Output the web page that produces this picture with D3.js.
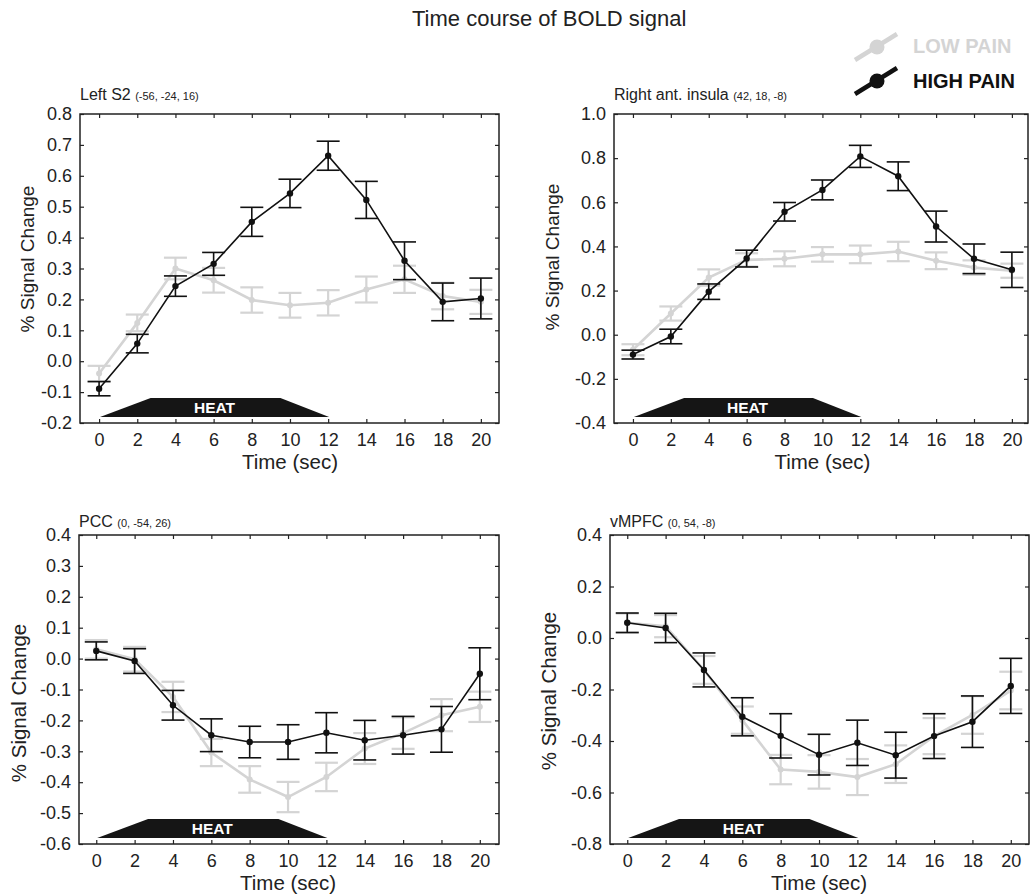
<!DOCTYPE html>
<html lang="en">
<head>
<meta charset="UTF-8">
<title>Time course of BOLD signal</title>
<style>
    body { margin: 0; background: #fff; }
    svg { font-family: "Liberation Sans", Arial, sans-serif; }
    .frame { fill: none; stroke: #222; stroke-width: 1.5px; }
    .axis path { display: none; }
    .axis line { stroke: #222; stroke-width: 1.2px; }
    .axis text { font-size: 18px; fill: #222; }
</style>
</head>
<body>
<svg id="chart" width="1030" height="896"></svg>

<script src="https://d3js.org/d3.v7.min.js"></script>
<script>
    // time points (sec)
    const times = [0, 2, 4, 6, 8, 10, 12, 14, 16, 18, 20];

    // Left S2
    const s2High    = [-0.089, 0.057, 0.243, 0.315, 0.451, 0.543, 0.665, 0.522, 0.325, 0.192, 0.203];
    const s2HighErr = [0.023, 0.030, 0.033, 0.037, 0.047, 0.046, 0.047, 0.060, 0.061, 0.061, 0.066];
    const s2Low     = [-0.040, 0.124, 0.300, 0.262, 0.198, 0.181, 0.189, 0.232, 0.265, 0.211, 0.192];
    const s2LowErr  = [0.025, 0.027, 0.035, 0.040, 0.041, 0.040, 0.041, 0.042, 0.044, 0.043, 0.039];
    const s2Ticks   = [-0.2, -0.1, 0.0, 0.1, 0.2, 0.3, 0.4, 0.5, 0.6, 0.7, 0.8];

    // Right anterior insula
    const insHigh    = [-0.090, -0.008, 0.195, 0.345, 0.557, 0.656, 0.808, 0.718, 0.490, 0.344, 0.294];
    const insHighErr = [0.020, 0.033, 0.035, 0.038, 0.042, 0.045, 0.050, 0.065, 0.070, 0.067, 0.080];
    const insLow     = [-0.068, 0.096, 0.259, 0.339, 0.344, 0.364, 0.364, 0.377, 0.335, 0.304, 0.290];
    const insLowErr  = [0.025, 0.032, 0.037, 0.030, 0.034, 0.033, 0.040, 0.044, 0.038, 0.033, 0.032];
    const insTicks   = [-0.4, -0.2, 0.0, 0.2, 0.4, 0.6, 0.8, 1.0];

    // PCC
    const pccHigh    = [0.025, -0.008, -0.151, -0.248, -0.270, -0.270, -0.240, -0.264, -0.248, -0.229, -0.049];
    const pccHighErr = [0.029, 0.040, 0.048, 0.053, 0.051, 0.056, 0.065, 0.064, 0.061, 0.074, 0.084];
    const pccLow     = [0.030, -0.002, -0.124, -0.304, -0.391, -0.448, -0.383, -0.291, -0.241, -0.183, -0.156];
    const pccLowErr  = [0.030, 0.040, 0.049, 0.044, 0.043, 0.049, 0.046, 0.050, 0.051, 0.052, 0.049];
    const pccTicks   = [-0.6, -0.5, -0.4, -0.3, -0.2, -0.1, 0.0, 0.1, 0.2, 0.3, 0.4];

    // vMPFC
    const vmHigh    = [0.059, 0.039, -0.124, -0.306, -0.380, -0.453, -0.407, -0.455, -0.381, -0.325, -0.186];
    const vmHighErr = [0.038, 0.057, 0.066, 0.074, 0.086, 0.079, 0.088, 0.089, 0.087, 0.100, 0.107];
    const vmLow     = [0.059, 0.046, -0.124, -0.319, -0.511, -0.520, -0.540, -0.490, -0.381, -0.299, -0.204];
    const vmLowErr  = [0.036, 0.043, 0.054, 0.053, 0.057, 0.065, 0.070, 0.073, 0.070, 0.073, 0.073];
    const vmTicks   = [-0.8, -0.6, -0.4, -0.2, 0.0, 0.2, 0.4];

    // heat stimulus ramp (sec): start, plateau start, plateau end, end
    const heatTimes = [0.05, 2.7, 9.5, 12.05];

    const black = '#111';
    const grey = '#d4d4d4';

    const panels = [
        { name: 'Left S2', coords: '(-56, -24, 16)', left: 80, top: 114, w: 419, xDom: [-1, 20.95],
          titleDy: -14, ylabX: -53, ylabY: 145, ylabSize: 19,
          ticks: s2Ticks, high: s2High, highErr: s2HighErr, low: s2Low, lowErr: s2LowErr },
        { name: 'Right ant. insula', coords: '(42, 18, -8)', left: 614, top: 114, w: 414, xDom: [-1, 20.85],
          titleDy: -14, ylabX: -62, ylabY: 143, ylabSize: 19,
          ticks: insTicks, high: insHigh, highErr: insHighErr, low: insLow, lowErr: insLowErr },
        { name: 'PCC', coords: '(0, -54, 26)', left: 79, top: 535, w: 420, xDom: [-0.9, 21],
          titleDy: -8, ylabX: -60, ylabY: 168, ylabSize: 20.5,
          ticks: pccTicks, high: pccHigh, highErr: pccHighErr, low: pccLow, lowErr: pccLowErr },
        { name: 'vMPFC', coords: '(0, 54, -8)', left: 610, top: 535, w: 419, xDom: [-0.9, 20.95],
          titleDy: -8, ylabX: -61, ylabY: 156, ylabSize: 20.5,
          ticks: vmTicks, high: vmHigh, highErr: vmHighErr, low: vmLow, lowErr: vmLowErr }
    ];
    const plotH = 309;

    const svg = d3.select('#chart');

    svg.append('text')
        .attr('x', 412).attr('y', 26)
        .style('font-size', '22px').style('fill', '#222')
        .text('Time course of BOLD signal');

    // legend
    const legend = [
        { label: 'LOW PAIN', color: grey, y: 47, ty: 53 },
        { label: 'HIGH PAIN', color: black, y: 81, ty: 88 }
    ];
    const lg = svg.selectAll('.legend').data(legend).enter().append('g').attr('class', 'legend');
    lg.append('line')
        .attr('x1', 855).attr('x2', 897)
        .attr('y1', d => d.y + 13).attr('y2', d => d.y - 13)
        .attr('stroke', d => d.color).attr('stroke-width', 4.5);
    lg.append('circle')
        .attr('cx', 877).attr('cy', d => d.y).attr('r', 7.5)
        .attr('fill', d => d.color);
    lg.append('text')
        .attr('x', 913).attr('y', d => d.ty)
        .style('font-size', '20px').style('font-weight', 'bold')
        .style('fill', d => d.color)
        .text(d => d.label);

    panels.forEach(p => {
        const g = svg.append('g').attr('transform', `translate(${p.left},${p.top})`);
        const x = d3.scaleLinear().domain(p.xDom).range([0, p.w]);
        const y = d3.scaleLinear().domain(d3.extent(p.ticks)).range([plotH, 0]);
        const fmt = d => d.toFixed(1);

        // heat ramp
        const heatPts = [
            [x(heatTimes[0]), plotH - 6], [x(heatTimes[1]), plotH - 25],
            [x(heatTimes[2]), plotH - 25], [x(heatTimes[3]), plotH - 6]
        ];
        g.append('path')
            .attr('d', d3.line()(heatPts) + 'Z')
            .attr('fill', '#151515');
        g.append('text')
            .attr('x', x(6.05)).attr('y', plotH - 10)
            .attr('text-anchor', 'middle')
            .style('font-size', '15.5px').style('font-weight', 'bold').style('fill', '#fff')
            .text('HEAT');

        // axes (ticks inward on all four sides)
        g.append('g').attr('class', 'axis')
            .call(d3.axisLeft(y).tickValues(p.ticks).tickSize(-4).tickPadding(8).tickFormat(fmt));
        g.append('g').attr('class', 'axis').attr('transform', `translate(${p.w},0)`)
            .call(d3.axisRight(y).tickValues(p.ticks).tickSize(-4).tickFormat(''));
        g.append('g').attr('class', 'axis').attr('transform', `translate(0,${plotH})`)
            .call(d3.axisBottom(x).tickValues(times).tickSize(-4).tickPadding(10));
        g.append('g').attr('class', 'axis')
            .call(d3.axisTop(x).tickValues(times).tickSize(-4).tickFormat(''));
        g.append('rect').attr('class', 'frame')
            .attr('width', p.w).attr('height', plotH);

        // labels
        g.append('text')
            .attr('x', x(10)).attr('y', plotH + 46)
            .attr('text-anchor', 'middle')
            .style('font-size', '20.5px').style('fill', '#222')
            .text('Time (sec)');
        g.append('text')
            .attr('transform', `translate(${p.ylabX},${p.ylabY}) rotate(-90)`)
            .attr('text-anchor', 'middle')
            .attr('dy', '0.35em')
            .style('font-size', p.ylabSize + 'px').style('fill', '#222')
            .text('% Signal Change');
        const t = g.append('text').attr('x', 0).attr('y', p.titleDy).style('fill', '#222');
        t.append('tspan').style('font-size', '16px').text(p.name + ' ');
        t.append('tspan').style('font-size', '11px').text(p.coords);

        // series: low pain underneath, high pain on top
        const series = [
            { vals: p.low, err: p.lowErr, color: grey, lw: 2.6, ew: 2.2, r: 3 },
            { vals: p.high, err: p.highErr, color: black, lw: 1.6, ew: 1.6, r: 3.2 }
        ];
        series.forEach(s => {
            const pts = times.map((t, i) => ({ t: t, v: s.vals[i], e: s.err[i] }));
            const eb = g.append('g');
            eb.selectAll('line.v').data(pts).enter().append('line')
                .attr('x1', d => x(d.t)).attr('x2', d => x(d.t))
                .attr('y1', d => y(d.v + d.e)).attr('y2', d => y(d.v - d.e))
                .attr('stroke', s.color).attr('stroke-width', s.ew);
            [1, -1].forEach(sign => {
                eb.selectAll(null).data(pts).enter().append('line')
                    .attr('x1', d => x(d.t) - 11.5).attr('x2', d => x(d.t) + 11.5)
                    .attr('y1', d => y(d.v + sign * d.e)).attr('y2', d => y(d.v + sign * d.e))
                    .attr('stroke', s.color).attr('stroke-width', s.ew);
            });
            g.append('path')
                .datum(pts)
                .attr('d', d3.line().x(d => x(d.t)).y(d => y(d.v)))
                .attr('fill', 'none')
                .attr('stroke', s.color).attr('stroke-width', s.lw);
            g.selectAll(null).data(pts).enter().append('circle')
                .attr('cx', d => x(d.t)).attr('cy', d => y(d.v)).attr('r', s.r)
                .attr('fill', s.color);
        });
    });
</script>
</body>
</html>
